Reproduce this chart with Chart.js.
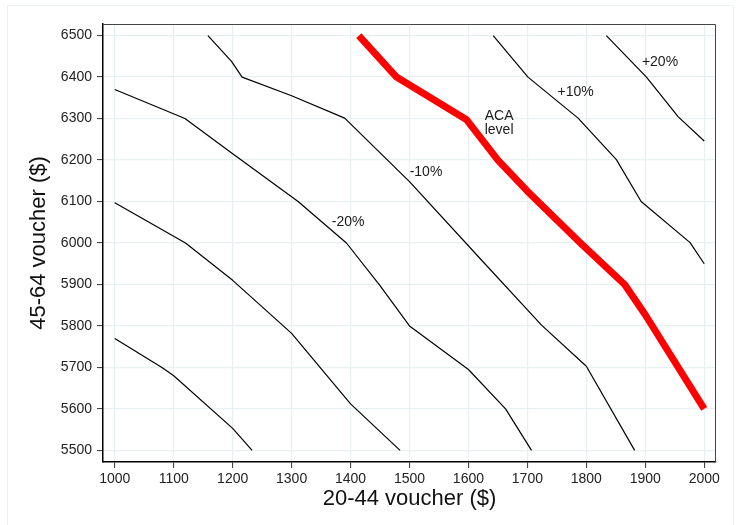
<!DOCTYPE html>
<html><head><meta charset="utf-8">
<script src="https://cdn.jsdelivr.net/npm/chart.js@4/dist/chart.umd.min.js"></script>
<style>html,body{margin:0;padding:0;background:#fff}</style>
</head><body>
<canvas id="c" width="738" height="525"></canvas>
<script>
const xTicks = [1000,1100,1200,1300,1400,1500,1600,1700,1800,1900,2000];
const yTicks = [5500,5600,5700,5800,5900,6000,6100,6200,6300,6400,6500];

const m40X = [1000,1080,1100,1200,1233];
const m40Y = [5770,5700,5680,5553,5500];
const m30X = [1000,1120,1200,1300,1400,1484];
const m30Y = [6097,6000,5910,5782,5612,5500];
const m20X = [1000,1119,1200,1311,1393,1449,1500,1600,1663,1707];
const m20Y = [6370,6300,6215,6100,6000,5899,5800,5695,5600,5500];
const m10X = [1158,1198,1216,1300,1390,1500,1622,1724,1800,1882];
const m10Y = [6500,6438,6400,6355,6301,6148,5959,5802,5703,5500];
const acaX = [1414,1478,1597,1650,1700,1790,1865,1900,2000];
const acaY = [6500,6400,6297,6200,6125,6000,5900,5827,5600];
const p10X = [1642,1701,1786,1851,1893,1976,2000];
const p10Y = [6500,6400,6301,6201,6100,6001,5950];
const p20X = [1834,1902,1956,2000];
const p20Y = [6500,6400,6304,6246];

const labelText = ['-20%','-10%','ACA','level','+10%','+20%'];
const labelX = [1396,1528,1652,1652,1782,1925];
const labelY = [6050,6170,6307,6272,6364,6436];

const FONT = "'Liberation Sans', Arial, Helvetica, sans-serif";
const pts = (xs, ys) => xs.map((x, i) => ({x: x, y: ys[i]}));
const line = (xs, ys, color, w) => ({data: pts(xs, ys), showLine: true, borderColor: color, backgroundColor: color,
  borderWidth: w, pointRadius: 0, tension: 0, borderJoinStyle: 'round', fill: false});

const decor = {
  id: 'decor',
  beforeDraw(chart) {
    const ctx = chart.ctx;
    ctx.save();
    ctx.fillStyle = '#fff';
    ctx.fillRect(0, 0, chart.width, chart.height);
    ctx.strokeStyle = '#eaf1f2';
    ctx.lineWidth = 1;
    ctx.strokeRect(7.5, 5.5, 726, 540);
    ctx.restore();
  },
  afterDraw(chart) {
    const ctx = chart.ctx, a = chart.chartArea;
    const xs = chart.scales.x, ys = chart.scales.y;
    ctx.save();
    ctx.strokeStyle = '#444';
    ctx.lineWidth = 1;
    ctx.beginPath();
    ctx.moveTo(a.left, a.top + 0.5);
    ctx.lineTo(a.right - 0.5, a.top + 0.5);
    ctx.lineTo(a.right - 0.5, a.bottom);
    ctx.stroke();
    ctx.fillStyle = '#1a1a1a';
    ctx.font = '14px ' + FONT;
    ctx.textAlign = 'center';
    ctx.textBaseline = 'middle';
    labelText.forEach((t, i) => {
      ctx.fillText(t, xs.getPixelForValue(labelX[i]), ys.getPixelForValue(labelY[i]));
    });
    ctx.restore();
  }
};

new Chart(document.getElementById('c'), {
  type: 'scatter',
  data: {datasets: [
    line(m40X, m40Y, '#000', 1.2),
    line(m30X, m30Y, '#000', 1.2),
    line(m20X, m20Y, '#000', 1.2),
    line(m10X, m10Y, '#000', 1.2),
    line(p10X, p10Y, '#000', 1.2),
    line(p20X, p20Y, '#000', 1.2),
    line(acaX, acaY, '#ff0000', 7)
  ]},
  options: {
    responsive: false, animation: false, devicePixelRatio: 1,
    layout: {padding: {left: 0, right: 22, top: 24, bottom: 0}},
    plugins: {legend: {display: false}, tooltip: {enabled: false}},
    scales: {
      x: {
        type: 'linear', min: 980, max: 2020,
        afterBuildTicks: s => { s.ticks = xTicks.map(v => ({value: v})); },
        afterFit: s => { s.height = 63; },
        ticks: {font: {family: FONT, size: 14}, color: '#222', padding: 3, maxRotation: 0, autoSkip: false,
          callback: v => String(v)},
        grid: {color: '#e8f0f1', lineWidth: 1.2, tickLength: 6, tickColor: '#333', tickWidth: 1},
        border: {color: '#000', width: 1.5},
        title: {display: true, text: '20-44 voucher ($)', font: {family: FONT, size: 22}, color: '#111', padding: {top: 0, bottom: 13}}
      },
      y: {
        type: 'linear', min: 5472, max: 6528,
        afterBuildTicks: s => { s.ticks = yTicks.map(v => ({value: v})); },
        afterFit: s => { s.width = 103; },
        ticks: {font: {family: FONT, size: 14}, color: '#222', padding: 5, autoSkip: false,
          callback: v => String(v)},
        grid: {color: '#e8f0f1', lineWidth: 1.2, tickLength: 6, tickColor: '#333', tickWidth: 1},
        border: {color: '#000', width: 1.5},
        title: {display: true, text: '45-64 voucher ($)', font: {family: FONT, size: 22}, color: '#111', padding: {top: 26, bottom: 0}}
      }
    }
  },
  plugins: [decor]
});
</script>
</body></html>
